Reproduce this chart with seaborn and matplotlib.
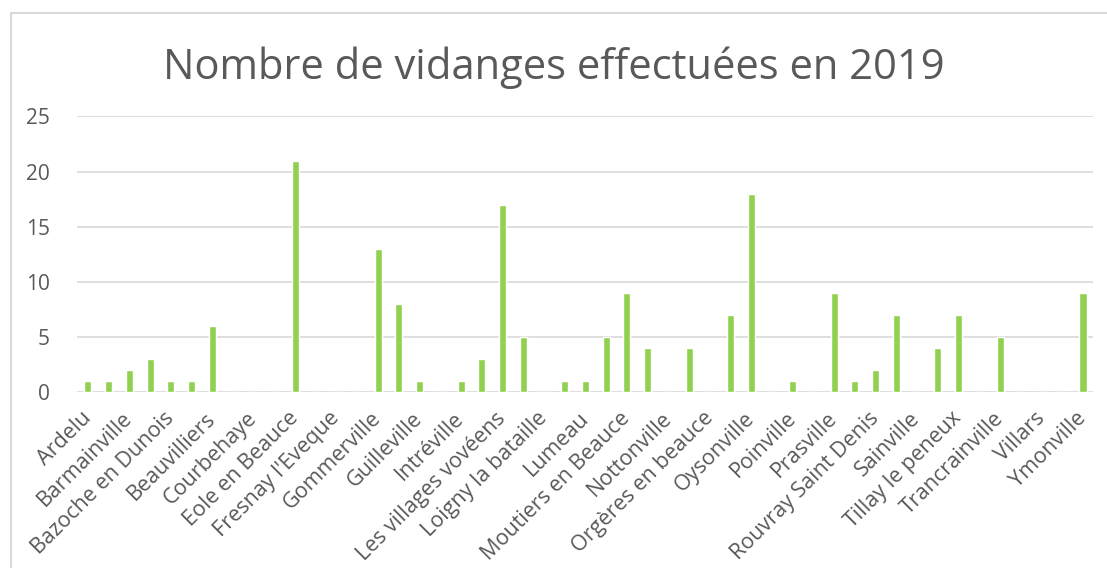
import matplotlib
matplotlib.use("Agg")
import matplotlib.pyplot as plt
import seaborn as sb
import pandas as pd
from matplotlib.patches import Rectangle

# communes, in the order of the chart (only every other one gets a label)
communes = [
    "Ardelu", "Baignolet", "Barmainville", "Baudreville", "Bazoche en Dunois",
    "Bazoches les Hautes", "Beauvilliers", "Cormainville", "Courbehaye", "Dambron",
    "Eole en Beauce", "Fontenay sur Conie", "Fresnay l'Eveque", "Garancières en Beauce",
    "Gommerville", "Gouillons", "Guilleville", "Guillonville", "Intréville",
    "Janville en Beauce", "Les villages vovéens", "Levesville la Chenard",
    "Loigny la bataille", "Louville la Chenard", "Lumeau", "Mérouville",
    "Moutiers en Beauce", "Neuvy en Beauce", "Nottonville", "Oinville Saint Liphard",
    "Orgères en beauce", "Ouarville", "Oysonville", "Péronville", "Poinville",
    "Poupry", "Prasville", "Réclainville", "Rouvray Saint Denis",
    "Saint Léger des Aubées", "Sainville", "Terminiers", "Tillay le peneux",
    "Toury", "Trancrainville", "Varize", "Villars", "Voves", "Ymonville",
]
vidanges = [
    1, 1, 2, 3, 1, 1, 6, 0, 0, 0,
    21, 0, 0, 0, 13, 8, 1, 0, 1, 3,
    17, 5, 0, 1, 1, 5, 9, 4, 0, 4,
    0, 7, 18, 0, 1, 0, 9, 1, 2, 7,
    0, 4, 7, 0, 5, 0, 0, 0, 9,
]
yticks = [0, 5, 10, 15, 20, 25]
titre = "Nombre de vidanges effectuées en 2019"

df = pd.DataFrame({"commune": communes, "vidanges": vidanges})

sb.set_style("white")
plt.rcParams["font.family"] = ["Open Sans", "DejaVu Sans"]

fig = plt.figure(figsize=(11.07, 5.68), dpi=100)
ax = fig.add_axes([0.0700, 0.3104, 0.9177, 0.4845])

# grid first so the bars sit on top
for v in yticks:
    ax.axhline(v, color="#D9D9D9", linewidth=1.2, zorder=0)

sb.barplot(data=df, x="commune", y="vidanges", color="#92D050",
           width=0.34, saturation=1, ax=ax, zorder=2)

ax.set_xlim(-0.5, len(communes) - 0.5)
ax.set_ylim(0, 25)
ax.set_yticks(yticks)
ax.set_yticklabels([str(v) for v in yticks], fontsize=15, color="#595959")
ax.set_xticks(range(0, len(communes), 2))
ax.set_xticklabels(communes[::2], rotation=45, ha="right", va="center",
                   rotation_mode="anchor", fontsize=15.5, color="#595959")
ax.tick_params(axis="both", length=0)
ax.tick_params(axis="y", pad=20)
ax.tick_params(axis="x", pad=17)
ax.set_xlabel("")
ax.set_ylabel("")
for s in ax.spines.values():
    s.set_visible(False)

fig.text(0.5, 0.88, titre, ha="center", va="center", fontsize=30, color="#595959")

# light frame of the chart area
fig.patches.append(Rectangle((11 / 1107, -0.05), 1.2, 1 - 13 / 568 + 0.05,
                             transform=fig.transFigure, fill=False,
                             edgecolor="#D9D9D9", linewidth=1.5))

fig.savefig("out.png", dpi=100)
